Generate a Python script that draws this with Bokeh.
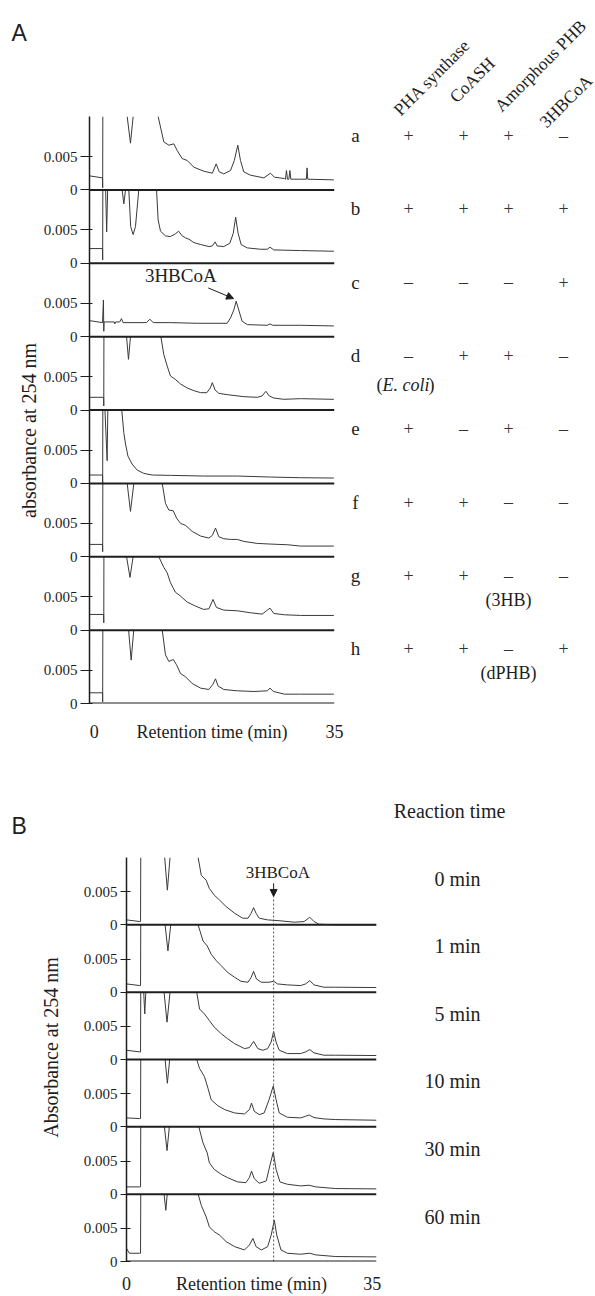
import math
import numpy as np
from bokeh.plotting import figure
from bokeh.layouts import row, column
from bokeh.models import Range1d, FixedTicker, CustomJSTickFormatter, Span, Arrow, NormalHead
from bokeh.core.properties import value
from bokeh.embed import file_html
from bokeh.resources import INLINE

NA = float("nan")   # break: trace leaves the visible scale

# ------------------------------------------------------------------ data A
LANES_A = ["a", "b", "c", "d", "e", "f", "g", "h"]
COMPONENTS_A = ["PHA synthase", "CoASH", "Amorphous PHB", "3HBCoA"]
SIGNS_A = [
    ["+", "+", "+", "–"],
    ["+", "+", "+", "+"],
    ["–", "–", "–", "+"],
    ["–", "+", "+", "–"],
    ["+", "–", "+", "–"],
    ["+", "+", "–", "–"],
    ["+", "+", "–", "–"],
    ["+", "+", "–", "+"],
]
FULL_A = 0.011          # absorbance full scale of one lane in panel A
YTICKS = [0.0, 0.005]

A_a_t = [-0.7, 1.20, 1.22, 1.24, NA, 4.79, 5.27, 5.66, NA, 9.30, 10.13, 10.86, 11.59, 12.08, 12.80, 13.54, 14.50, 15.95, 17.20, 17.76, 18.20, 18.87, 19.85, 20.40, 20.91, 21.30, 21.78, 22.76, 24.70, 25.67, 26.25, 27.70, 27.86, 28.00, 28.15, 28.35, 28.50, 28.64, 30.05, 30.90, 31.00, 31.10, 34.90]
A_a_v = [0.0021, 0.0018, 0.0003, 0.011, NA, 0.011, 0.0070, 0.011, NA, 0.011, 0.0072, 0.0067, 0.0069, 0.0059, 0.0047, 0.0044, 0.0034, 0.0028, 0.0025, 0.0039, 0.0027, 0.0024, 0.0029, 0.0044, 0.0067, 0.0044, 0.0027, 0.0022, 0.0018, 0.0025, 0.0019, 0.0017, 0.0016, 0.0029, 0.0016, 0.0016, 0.0029, 0.0016, 0.0016, 0.0016, 0.0033, 0.0016, 0.0015]

A_b_t = [-0.7, 1.20, 1.22, 1.24, NA, 1.65, 1.80, 1.95, NA, 4.06, 4.30, 4.55, NA, 5.03, 5.30, 5.66, 6.00, 6.48, NA, 9.07, 9.30, 9.65, 10.37, 11.10, 11.80, 12.30, 12.80, 13.30, 13.80, 14.50, 15.50, 16.70, 17.20, 17.60, 17.90, 18.87, 19.75, 20.25, 20.60, 20.95, 21.40, 22.30, 24.20, 25.20, 25.60, 26.15, 30.05, 34.90]
A_b_v = [0.0022, 0.0022, 0.0005, 0.011, NA, 0.011, 0.0047, 0.011, NA, 0.011, 0.0089, 0.011, NA, 0.011, 0.0055, 0.0043, 0.0055, 0.011, NA, 0.011, 0.0065, 0.0048, 0.0041, 0.0040, 0.0044, 0.0048, 0.0041, 0.0038, 0.0036, 0.0031, 0.0028, 0.0025, 0.0026, 0.0032, 0.0026, 0.0025, 0.0030, 0.0045, 0.0069, 0.0045, 0.0028, 0.0023, 0.0021, 0.0021, 0.0024, 0.0020, 0.0019, 0.0018]

A_c_t = [-0.7, 1.20, 1.33, 1.38, 1.43, 1.55, 2.90, 2.99, 3.10, 3.70, 3.96, 4.20, 7.60, 8.09, 8.60, 11.0, 15.0, 19.36, 19.85, 20.33, 20.67, 21.05, 21.54, 22.30, 25.20, 25.60, 26.00, 30.05, 34.90]
A_c_v = [0.0024, 0.0021, 0.0055, 0.0008, 0.0022, 0.0022, 0.0022, 0.0019, 0.0022, 0.0022, 0.0027, 0.0021, 0.0021, 0.0026, 0.0021, 0.0021, 0.0020, 0.0020, 0.0028, 0.0040, 0.0053, 0.0040, 0.0023, 0.0018, 0.0017, 0.0019, 0.0017, 0.0017, 0.0016]

A_d_t = [-0.7, 1.36, 1.38, 1.40, NA, 4.70, 4.98, 5.27, NA, 9.70, 10.13, 10.62, 11.10, 11.80, 12.56, 13.54, 14.50, 15.50, 16.40, 16.90, 17.20, 17.60, 18.14, 19.36, 21.78, 23.74, 24.45, 25.00, 25.50, 26.15, 27.60, 30.05, 34.90]
A_d_v = [0.0019, 0.0019, 0.0006, 0.011, NA, 0.011, 0.0076, 0.011, NA, 0.011, 0.0083, 0.0066, 0.0051, 0.0046, 0.0039, 0.0033, 0.0029, 0.0026, 0.0026, 0.0033, 0.0041, 0.0030, 0.0025, 0.0023, 0.0020, 0.0019, 0.0021, 0.0028, 0.0021, 0.0018, 0.0016, 0.0017, 0.0016]

A_e_t = [-0.7, 1.20, 1.22, 1.24, NA, 1.55, 1.87, 1.97, NA, 4.00, 4.30, 4.55, 4.90, 5.50, 6.24, 7.20, 8.45, 11.10, 15.95, 20.85, 25.67, 30.05, 34.90]
A_e_v = [0.00125, 0.00125, 0.0, 0.011, NA, 0.011, 0.0034, 0.011, NA, 0.011, 0.0076, 0.0059, 0.0041, 0.0029, 0.0020, 0.0015, 0.00125, 0.0012, 0.0011, 0.0011, 0.00095, 0.00085, 0.0008]

A_f_t = [-0.7, 1.20, 1.22, 1.24, NA, 4.79, 5.27, 5.76, NA, 9.90, 10.37, 10.86, 11.50, 11.98, 12.56, 13.30, 14.26, 15.50, 16.70, 17.20, 17.66, 18.14, 18.87, 19.85, 20.85, 21.78, 23.74, 25.67, 28.10, 30.05, 34.90]
A_f_v = [0.00185, 0.00185, 0.00075, 0.011, NA, 0.011, 0.0068, 0.011, NA, 0.011, 0.0080, 0.0070, 0.0069, 0.0058, 0.0050, 0.0047, 0.0038, 0.0031, 0.0028, 0.0032, 0.0043, 0.0030, 0.0027, 0.0026, 0.0026, 0.0023, 0.0020, 0.0019, 0.0018, 0.0016, 0.0016]

A_g_t = [-0.7, 1.36, 1.38, 1.40, NA, 4.70, 5.20, 5.65, NA, 9.40, 10.13, 10.62, 11.10, 11.80, 12.56, 13.54, 14.75, 15.95, 16.70, 17.30, 17.80, 18.87, 20.85, 22.76, 24.45, 25.10, 25.60, 26.15, 27.70, 30.05, 34.90]
A_g_v = [0.00235, 0.00235, 0.0011, 0.011, NA, 0.011, 0.0079, 0.011, NA, 0.011, 0.0094, 0.0086, 0.0071, 0.0057, 0.0051, 0.0042, 0.0036, 0.0031, 0.0032, 0.0046, 0.0034, 0.0030, 0.0029, 0.0026, 0.0024, 0.0029, 0.0033, 0.0025, 0.0023, 0.0022, 0.0022]

A_h_t = [-0.7, 1.20, 1.22, 1.24, NA, 5.00, 5.37, 5.75, NA, 9.90, 10.37, 10.86, 11.50, 11.98, 12.56, 13.30, 14.26, 15.50, 16.70, 17.30, 17.66, 18.05, 18.87, 20.85, 23.25, 25.20, 25.60, 26.10, 27.70, 30.05, 34.90]
A_h_v = [0.0016, 0.0016, 0.00025, 0.011, NA, 0.011, 0.0065, 0.011, NA, 0.011, 0.0073, 0.0063, 0.0066, 0.0058, 0.0045, 0.0040, 0.0030, 0.0023, 0.0021, 0.0029, 0.0037, 0.0026, 0.0021, 0.0019, 0.0018, 0.0019, 0.0023, 0.0018, 0.0014, 0.0014, 0.0014]

TRACES_A = [(A_a_t, A_a_v), (A_b_t, A_b_v), (A_c_t, A_c_v), (A_d_t, A_d_v),
            (A_e_t, A_e_v), (A_f_t, A_f_v), (A_g_t, A_g_v), (A_h_t, A_h_v)]

# ------------------------------------------------------------------ data B
TIMES_B = ["0 min", "1 min", "5 min", "10 min", "30 min", "60 min"]
FULL_B = 0.0102
HBCOA_RT_B = 20.95

B_0_t = [0.0, 1.9, 2.0, 2.03, NA, 5.44, 5.82, 6.20, NA, 10.2, 10.65, 11.35, 11.8, 12.5, 13.25, 14.2, 15.4, 16.55, 17.3, 17.75, 18.1, 18.45, 18.9, 20.1, 22.0, 23.9, 25.3, 26.1, 26.7, 27.4, 29.6, 35.6]
B_0_v = [0.00075, 0.0005, 0.0005, 0.0102, NA, 0.0102, 0.00525, 0.0102, NA, 0.0102, 0.0075, 0.00675, 0.0055, 0.0045, 0.00375, 0.00275, 0.00175, 0.0010, 0.0010, 0.00175, 0.0026, 0.00175, 0.0010, 0.00075, 0.0006, 0.0004, 0.0005, 0.00115, 0.0005, 0.0001, 0.0, 0.0]

B_1_t = [0.0, 1.9, 2.0, 2.03, NA, 5.5, 5.9, 6.3, NA, 10.2, 10.9, 11.5, 12.06, 12.8, 13.5, 14.4, 15.4, 16.3, 17.3, 17.75, 18.1, 18.5, 19.2, 20.3, 20.95, 21.5, 22.9, 24.8, 25.5, 26.1, 26.7, 28.1, 29.8, 35.6]
B_1_v = [0.00125, 0.001, 0.001, 0.0102, NA, 0.0102, 0.00625, 0.0102, NA, 0.0102, 0.00775, 0.007, 0.00575, 0.00475, 0.004, 0.003, 0.00225, 0.00165, 0.0015, 0.00225, 0.00315, 0.002, 0.0015, 0.0015, 0.00165, 0.00125, 0.0011, 0.001, 0.00125, 0.00175, 0.0011, 0.00075, 0.00075, 0.0007]

B_2_t = [0.0, 1.9, 2.0, 2.03, NA, 2.45, 2.6, 2.75, NA, 5.35, 5.77, 6.2, NA, 10.0, 10.4, 11.1, 11.8, 12.5, 13.5, 14.4, 15.4, 16.8, 17.5, 18.1, 18.7, 19.4, 20.1, 20.6, 20.95, 21.3, 21.75, 22.9, 24.8, 25.5, 26.1, 26.7, 28.1, 29.8, 35.6]
B_2_v = [0.0014, 0.00115, 0.00115, 0.0102, NA, 0.0102, 0.0069, 0.0102, NA, 0.0102, 0.00565, 0.0102, NA, 0.0102, 0.00765, 0.0069, 0.0059, 0.0049, 0.0039, 0.00315, 0.0024, 0.00165, 0.0018, 0.00275, 0.00165, 0.0014, 0.00165, 0.00265, 0.00425, 0.00265, 0.0014, 0.0009, 0.0009, 0.00115, 0.0015, 0.001, 0.00065, 0.00065, 0.0006]

B_3_t = [0.0, 1.9, 2.0, 2.03, NA, 5.5, 5.82, 6.15, NA, 10.0, 10.4, 11.1, 11.6, 12.06, 13.0, 14.0, 15.4, 16.8, 17.5, 17.8, 18.2, 18.9, 19.6, 20.3, 20.9, 21.3, 21.75, 22.9, 24.8, 25.5, 26.0, 26.7, 28.1, 29.8, 35.6]
B_3_v = [0.00135, 0.00125, 0.00125, 0.0102, NA, 0.0102, 0.0066, 0.0102, NA, 0.0102, 0.00885, 0.0076, 0.00585, 0.0041, 0.0032, 0.0026, 0.0021, 0.00195, 0.0026, 0.0036, 0.00235, 0.00185, 0.0021, 0.0041, 0.0062, 0.0041, 0.0021, 0.00145, 0.00135, 0.0016, 0.0018, 0.0014, 0.0012, 0.0011, 0.001]

B_4_t = [0.0, 1.9, 2.0, 2.03, NA, 5.4, 5.77, 6.1, NA, 10.3, 10.9, 11.5, 11.8, 12.5, 13.5, 14.4, 15.85, 17.0, 17.5, 17.8, 18.2, 18.9, 19.9, 20.4, 20.9, 21.3, 21.85, 22.9, 24.8, 26.0, 26.95, 29.8, 35.6]
B_4_v = [0.0011, 0.0011, 0.0011, 0.0102, NA, 0.0102, 0.0066, 0.0102, NA, 0.0102, 0.00775, 0.00625, 0.00475, 0.00375, 0.003, 0.0025, 0.00185, 0.00175, 0.0025, 0.0035, 0.00235, 0.00165, 0.002, 0.00425, 0.00635, 0.00375, 0.00185, 0.0015, 0.00125, 0.00135, 0.0011, 0.00085, 0.0008]

B_5_t = [0.0, 0.4, 1.9, 2.0, 2.03, NA, 5.35, 5.6, 5.8, NA, 10.2, 10.65, 11.35, 11.8, 12.5, 13.25, 14.2, 15.4, 16.8, 17.5, 18.0, 18.45, 19.2, 20.1, 20.6, 21.05, 21.4, 22.0, 22.9, 24.8, 26.1, 26.95, 29.8, 35.6]
B_5_v = [0.002, 0.00125, 0.00125, 0.00125, 0.0102, NA, 0.0102, 0.00775, 0.0102, NA, 0.0102, 0.0085, 0.00675, 0.00525, 0.0045, 0.004, 0.003, 0.00225, 0.00175, 0.0025, 0.0035, 0.00225, 0.00175, 0.00225, 0.004, 0.00625, 0.004, 0.00175, 0.00125, 0.0011, 0.00125, 0.001, 0.00075, 0.0007]

TRACES_B = [(B_0_t, B_0_v), (B_1_t, B_1_v), (B_2_t, B_2_v),
            (B_3_t, B_3_v), (B_4_t, B_4_v), (B_5_t, B_5_v)]

# ------------------------------------------------------------------ style
SERIF = "Liberation Serif"
SANS = "Liberation Sans"
INK = "#1e1e1e"
TRACE = "#3a3a3a"
XLABEL = "Retention time (min)"


def base_fig(w, h, xr, yr, **kw):
    p = figure(width=w, height=h, x_range=xr, y_range=yr, toolbar_location=None,
               output_backend="svg", frame_align=False, **kw)
    p.outline_line_color = None
    p.background_fill_color = "white"
    p.border_fill_color = "white"
    p.xgrid.visible = False
    p.ygrid.visible = False
    return p


def text_fig(w, h, x0, x1, y_bottom, y_top):
    return base_fig(w, h, Range1d(x0, x1), Range1d(y_bottom, y_top),
                    x_axis_location=None, y_axis_location=None, min_border=0)


def stack_fig(w, h, xr, full, traces, borders, tick_out, tick_in, xstandoff):
    n = len(traces)
    p = base_fig(w, h, xr, Range1d(0, n * full),
                 min_border_left=borders[0], min_border_right=borders[1],
                 min_border_top=borders[2], min_border_bottom=borders[3])
    for k, (t, v) in enumerate(traces):
        off = (n - 1 - k) * full
        p.line(np.asarray(t, float), off + np.asarray(v, float),
               line_color=TRACE, line_width=1)
    for k in range(n):
        p.add_layout(Span(location=k * full, dimension="width",
                          line_color=INK, line_width=2))
    ya = p.yaxis[0]
    ya.ticker = FixedTicker(ticks=[k * full + d for k in range(n) for d in YTICKS])
    ya.formatter = CustomJSTickFormatter(args=dict(S=full), code="""
        const k = Math.floor(tick / S + 1e-6);
        const r = tick - k * S;
        return (r < 1e-6) ? "0" : "0.005";""")
    ya.major_tick_out = tick_out
    ya.major_tick_in = tick_in
    ya.minor_tick_out = 0
    ya.minor_tick_in = 0
    ya.axis_line_width = 1.5
    ya.axis_line_color = INK
    ya.major_tick_line_color = INK
    ya.major_label_standoff = 3
    ya.major_label_text_font = SERIF
    ya.major_label_text_font_size = "15px"
    ya.major_label_text_color = INK

    xa = p.xaxis[0]
    mid = 0.5 * (xr.start + xr.end)
    xa.ticker = FixedTicker(ticks=[0, mid, 35])
    xa.formatter = CustomJSTickFormatter(args=dict(mid=mid, lab=XLABEL), code="""
        return Math.abs(tick - mid) < 1e-6 ? lab : tick.toFixed(0);""")
    xa.axis_line_color = None
    xa.major_tick_line_color = None
    xa.minor_tick_line_color = None
    xa.major_label_standoff = xstandoff
    xa.major_label_text_font = SERIF
    xa.major_label_text_font_size = "18px"
    xa.major_label_text_color = INK
    return p


# ================================================================== panel A
leftA = text_fig(40, 768, 0, 40, 768, 0)
leftA.text(x=[11], y=[32], text=["A"], text_font=value(SANS), text_font_size=value("23px"),
           text_align="left", text_baseline="alphabetic", text_color=INK)
leftA.text(x=[28], y=[430], text=["absorbance at 254 nm"], angle=math.pi / 2,
           text_font=value(SERIF), text_font_size=value("20px"),
           text_align="center", text_baseline="middle", text_color=INK)

figA = stack_fig(304, 768, Range1d(-0.7, 35.0), FULL_A, TRACES_A,
                 (49, 10, 116, 65), 9, 3, 12)
off_c = (len(TRACES_A) - 1 - LANES_A.index("c")) * FULL_A
figA.text(x=[12.6], y=[off_c + 0.0092], text=["3HBCoA"], text_font=value(SERIF),
          text_font_size=value("19px"), text_align="center", text_baseline="middle",
          text_color=INK)
figA.add_layout(Arrow(end=NormalHead(size=7, fill_color=INK, line_color=INK),
                      x_start=16.6, y_start=off_c + 0.0073,
                      x_end=20.3, y_end=off_c + 0.0057,
                      line_color=INK, line_width=1))

annA = text_fig(251, 768, 344, 595, 768, 0)
ROW_Y0, ROW_DY = 135, 73.35
COL_X = [408, 463, 508, 563]
HEAD_XY = [(396, 112), (452, 99), (497, 108), (542, 124)]
for (hx, hy), name in zip(HEAD_XY, COMPONENTS_A):
    annA.text(x=[hx], y=[hy], text=[name], angle=math.pi / 4,
              text_font=value(SERIF), text_font_size=value("17.5px"),
              text_align="left", text_baseline="alphabetic", text_color=INK)
for i, lane in enumerate(LANES_A):
    y = ROW_Y0 + i * ROW_DY
    annA.text(x=[355], y=[y], text=[lane], text_font=value(SERIF),
              text_font_size=value("19px"), text_align="center",
              text_baseline="middle", text_color=INK)
    annA.text(x=COL_X, y=[y] * 4, text=SIGNS_A[i], text_font=value(SERIF),
              text_font_size=value("18px"), text_align="center",
              text_baseline="middle", text_color="#333333")
# notes under lanes d, g, h
yd = ROW_Y0 + LANES_A.index("d") * ROW_DY + 29
annA.text(x=[376], y=[yd], text=["("], text_font=value(SERIF), text_font_size=value("18px"),
          text_align="left", text_baseline="middle", text_color=INK)
annA.text(x=[382], y=[yd], text=["E. coli"], text_font=value(SERIF), text_font_size=value("18px"),
          text_font_style="italic", text_align="left", text_baseline="middle", text_color=INK)
annA.text(x=[428], y=[yd], text=[")"], text_font=value(SERIF), text_font_size=value("18px"),
          text_align="left", text_baseline="middle", text_color=INK)
for lane, note in (("g", "(3HB)"), ("h", "(dPHB)")):
    yn = ROW_Y0 + LANES_A.index(lane) * ROW_DY + 24
    annA.text(x=[508], y=[yn], text=[note], text_font=value(SERIF),
              text_font_size=value("18px"), text_align="center",
              text_baseline="middle", text_color=INK)

# ================================================================== panel B
leftB = text_fig(80, 528, 0, 80, 1296, 768)
leftB.text(x=[11], y=[825], text=["B"], text_font=value(SANS), text_font_size=value("23px"),
           text_align="left", text_baseline="alphabetic", text_color=INK)
leftB.text(x=[50], y=[1047], text=["Absorbance at 254 nm"], angle=math.pi / 2,
           text_font=value(SERIF), text_font_size=value("20px"),
           text_align="center", text_baseline="middle", text_color=INK)

figB = stack_fig(306, 528, Range1d(0.0, 35.6), FULL_B, TRACES_B,
                 (45, 10, 89, 34), 6, 4, 6)
off0 = (len(TRACES_B) - 1) * FULL_B
figB.segment(x0=[HBCOA_RT_B], y0=[0], x1=[HBCOA_RT_B], y1=[off0 + 0.0043],
             line_color="#555555", line_width=1, line_dash="2 2")
figB.add_layout(Arrow(end=NormalHead(size=7, fill_color=INK, line_color=INK),
                      x_start=HBCOA_RT_B, y_start=off0 + 0.0063,
                      x_end=HBCOA_RT_B, y_end=off0 + 0.0043,
                      line_color=INK, line_width=1))
figB.text(x=[HBCOA_RT_B + 0.6], y=[off0 + 0.0080], text=["3HBCoA"], text_font=value(SERIF),
          text_font_size=value("17px"), text_align="center", text_baseline="middle",
          text_color=INK)

annB = text_fig(209, 528, 386, 595, 1296, 768)
annB.text(x=[449], y=[810], text=["Reaction time"], text_font=value(SERIF),
          text_font_size=value("20px"), text_align="center", text_baseline="middle",
          text_color=INK)
TIME_Y0, TIME_DY = 878, 67.6
annB.text(x=[480] * len(TIMES_B), y=[TIME_Y0 + i * TIME_DY for i in range(len(TIMES_B))],
          text=TIMES_B, text_font=value(SERIF), text_font_size=value("20px"),
          text_align="right", text_baseline="middle", text_color=INK)

layout = column(row(leftA, figA, annA), row(leftB, figB, annB))

with open("out.html", "w") as f:
    f.write(file_html(layout, INLINE))
